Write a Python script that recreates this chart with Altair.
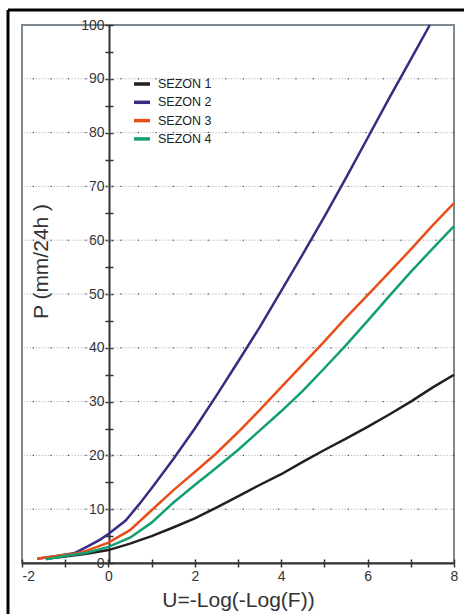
import altair as alt
import pandas as pd

# Seasonal rainfall frequency curves: P (mm/24h) against the Gumbel reduced variate U
SERIES = ["SEZON 1", "SEZON 2", "SEZON 3", "SEZON 4"]
COLORS = ["#231f20", "#3b2a82", "#e94e1b", "#12a06f"]

u_s1 = [-1.45, -1.0, -0.5, 0.0, 0.5, 1.0, 1.5, 2.0, 2.5, 3.0, 3.5, 4.0, 4.5, 5.0, 5.5, 6.0, 6.5, 7.0, 7.5, 8.0]
p_s1 = [0.8, 1.2, 1.7, 2.4, 3.6, 5.0, 6.6, 8.3, 10.3, 12.4, 14.5, 16.5, 18.8, 21.0, 23.1, 25.3, 27.6, 30.0, 32.6, 35.0]

u_s2 = [-1.65, -1.2, -0.8, -0.5, -0.2, 0.0, 0.4, 0.7, 1.0, 1.5, 2.0, 2.5, 3.0, 3.5, 4.0, 4.5, 5.0, 5.5, 6.0, 6.5, 7.0, 7.44]
p_s2 = [0.8, 1.3, 1.8, 3.0, 4.3, 5.4, 7.9, 10.8, 13.9, 19.3, 25.0, 31.1, 37.4, 43.8, 50.6, 57.4, 64.4, 71.6, 79.0, 86.4, 93.6, 100.0]

u_s3 = [-1.65, -1.2, -0.8, -0.5, 0.0, 0.5, 1.0, 1.5, 2.0, 2.5, 3.0, 3.5, 4.0, 4.5, 5.0, 5.5, 6.0, 6.5, 7.0, 7.5, 8.0]
p_s3 = [0.8, 1.3, 1.7, 2.3, 3.8, 6.1, 9.8, 13.5, 16.9, 20.4, 24.3, 28.4, 32.7, 36.9, 41.2, 45.6, 49.8, 54.0, 58.3, 62.7, 66.9]

u_s4 = [-1.45, -1.0, -0.5, 0.0, 0.5, 1.0, 1.5, 2.0, 2.5, 3.0, 3.5, 4.0, 4.5, 5.0, 5.5, 6.0, 6.5, 7.0, 7.5, 8.0]
p_s4 = [0.7, 1.3, 1.9, 3.0, 4.7, 7.5, 11.2, 14.5, 17.7, 21.0, 24.6, 28.2, 32.0, 36.2, 40.5, 45.0, 49.6, 54.1, 58.4, 62.6]

x_ticks = list(range(-2, 9))
y_ticks = list(range(0, 101, 5))
y_grid = list(range(10, 100, 10))

rows = []
for name, us, ps in zip(SERIES, [u_s1, u_s2, u_s3, u_s4], [p_s1, p_s2, p_s3, p_s4]):
    for i, (u, p) in enumerate(zip(us, ps)):
        rows.append({"sezon": name, "u": u, "p": p, "order": i})
df = pd.DataFrame(rows)
grid_df = pd.DataFrame({"p": y_grid})

W, H = 432, 538
X0_PX = 87  # pixel position of U = 0 inside the plot
FONT = "Liberation Sans"
INK = "#333333"

x_scale = alt.Scale(domain=[-2, 8], nice=False, zero=False)
y_scale = alt.Scale(domain=[0, 100], nice=False, zero=False)

x_axis = alt.Axis(
    orient="bottom", values=x_ticks, grid=False,
    labelExpr="datum.value % 2 == 0 ? '' + datum.value : ''",
    labelAlign={"condition": {"test": "datum.value == -2", "value": "left"}, "value": "center"},
    tickSize=4, tickWidth=1.5, tickColor=INK, domainColor=INK, domainWidth=2,
    labelFont=FONT, labelFontSize=14, labelColor=INK, labelPadding=2,
    title="U=-Log(-Log(F))", titleFont=FONT, titleFontSize=21, titleFontWeight="normal",
    titleColor=INK, titleY=26,
)
y_axis = alt.Axis(
    orient="left", offset=-X0_PX, values=y_ticks, grid=False,
    labelExpr="datum.value % 10 == 0 ? '' + datum.value : ''",
    tickSize=4, tickWidth=1.5, tickColor=INK, domainColor=INK, domainWidth=2,
    labelFont=FONT, labelFontSize=14, labelColor=INK, labelPadding=1,
    title="P (mm/24h )", titleFont=FONT, titleFontSize=21, titleFontWeight="normal",
    titleColor=INK, titleX=-58, titleY=236,
)
# mirrored axes so every tick crosses the axis line
x_axis_up = alt.Axis(orient="top", offset=-H, values=x_ticks, labels=False, domain=False,
                     grid=False, tickSize=4, tickWidth=1.5, tickColor=INK, title=None)
y_axis_right = alt.Axis(orient="right", offset=-(W - X0_PX), values=y_ticks, labels=False,
                        domain=False, grid=False, tickSize=4, tickWidth=1.5, tickColor=INK, title=None)

grid = alt.Chart(grid_df).mark_rule(color="#c3c3cf", strokeWidth=1, strokeDash=[1.5, 1.5]).encode(
    y=alt.Y("p:Q", scale=y_scale, axis=None)
)
grid_dots = alt.Chart(grid_df).mark_rule(color="#333333", strokeWidth=1, strokeDash=[1.2, 16.3]).encode(
    y=alt.Y("p:Q", scale=y_scale, axis=None)
)

lines = alt.Chart(df).mark_line(strokeWidth=2.5).encode(
    x=alt.X("u:Q", scale=x_scale, axis=x_axis),
    y=alt.Y("p:Q", scale=y_scale, axis=y_axis),
    color=alt.Color(
        "sezon:N",
        scale=alt.Scale(domain=SERIES, range=COLORS),
        legend=alt.Legend(
            orient="none", legendX=110, legendY=49, title=None, padding=0,
            symbolType="stroke", symbolSize=256, symbolStrokeWidth=3.5,
            labelFont=FONT, labelFontSize=12.5, labelColor="#222222",
            labelOffset=6, rowPadding=1.3,
        ),
    ),
    order="order:Q",
)

ticks_layer = alt.Chart(df).mark_point(opacity=0).encode(
    x=alt.X("u:Q", scale=x_scale, axis=x_axis_up),
    y=alt.Y("p:Q", scale=y_scale, axis=y_axis_right),
)

frame_src = alt.Data(values=[{}])
frame_left = alt.Chart(frame_src).mark_rule(color="black", strokeWidth=3).encode(
    x=alt.value(-14), y=alt.value(-15), y2=alt.value(H + 60)
)
frame_top = alt.Chart(frame_src).mark_rule(color="black", strokeWidth=3).encode(
    x=alt.value(-14), x2=alt.value(W + 10), y=alt.value(-15)
)

chart = (
    alt.layer(grid, grid_dots, lines, ticks_layer, frame_left, frame_top)
    .resolve_axis(x="independent", y="independent")
    .properties(
        width=W, height=H,
        autosize=alt.AutoSizeParams(type="none"),
        padding={"left": 22, "top": 25, "right": 14, "bottom": 51},
        background="white",
    )
    .configure_view(stroke="#7d8892", strokeWidth=2)
)

chart.save("out.html", embed_options={"renderer": "svg", "actions": False})
